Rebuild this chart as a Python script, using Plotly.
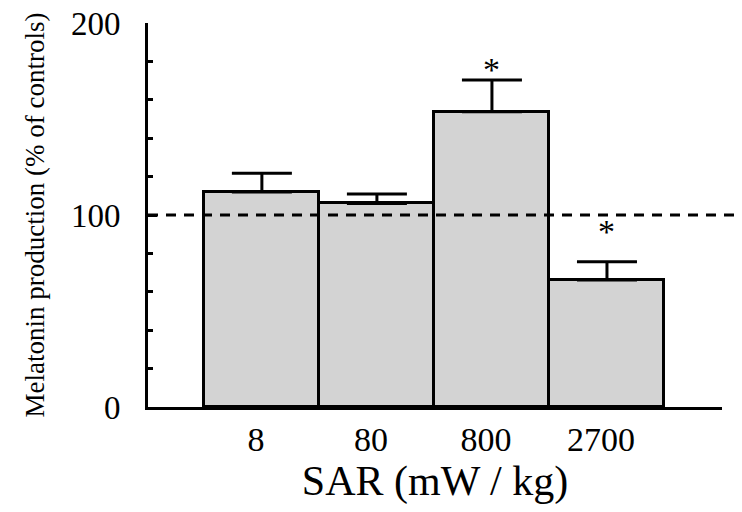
import plotly.graph_objects as go

categories = ["8", "80", "800", "2700"]
values = [112.0, 106.0, 153.8, 66.1]
errors = [9.7, 4.9, 16.5, 9.6]
star_labels = ["", "", "*", "*"]
star_y = [None, None, 176.0, 91.5]
control_level = 100

FONT = "Liberation Serif, Times New Roman, serif"

fig = go.Figure()
fig.add_trace(go.Bar(
    x=categories, y=values, width=1,
    marker=dict(color="#d3d3d3", line=dict(color="black", width=3)),
    error_y=dict(type="data", array=errors, arrayminus=[0] * len(errors),
                 symmetric=False, color="black", thickness=3, width=30),
    showlegend=False,
))

for i, (s, y) in enumerate(zip(star_labels, star_y)):
    if s:
        fig.add_annotation(x=i, y=y, xref="x", yref="y", text=s, showarrow=False,
                           font=dict(family=FONT, size=34, color="black"),
                           yanchor="middle")

fig.add_shape(type="line", xref="paper", yref="y", x0=0, x1=1.031,
              y0=control_level, y1=control_level,
              line=dict(color="black", width=3, dash="10px,8px"))

fig.update_layout(
    width=742, height=512,
    margin=dict(l=148, r=20, t=23, b=105),
    paper_bgcolor="white", plot_bgcolor="white",
    bargap=0,
    font=dict(family=FONT, color="black"),
)
fig.update_xaxes(
    type="category", range=[-0.99, 4.0], automargin=False,
    showline=True, linecolor="black", linewidth=3,
    ticks="", showgrid=False, zeroline=False,
    tickfont=dict(family=FONT, size=34, color="black"),
    ticklabelshift=-6, ticklabelstandoff=0,
    title=dict(text="SAR (mW / kg)", font=dict(family=FONT, size=42, color="black"),
               standoff=9),
)
fig.update_yaxes(
    range=[0, 200], dtick=100, tick0=0, automargin=False,
    showline=True, linecolor="black", linewidth=3,
    ticks="inside", ticklen=9, tickwidth=3, tickcolor="black",
    minor=dict(dtick=20, ticks="inside", ticklen=5, tickwidth=3, tickcolor="black"),
    showgrid=False, zeroline=False,
    tickfont=dict(family=FONT, size=33, color="black"),
    ticklabelstandoff=18,
    title=dict(text="Melatonin production (% of controls)",
               font=dict(family=FONT, size=27, color="black"), standoff=19),
)

fig.write_html("out.html", config={"displayModeBar": False},
               post_script="document.body.style.margin='0';document.body.style.overflow='hidden';")
